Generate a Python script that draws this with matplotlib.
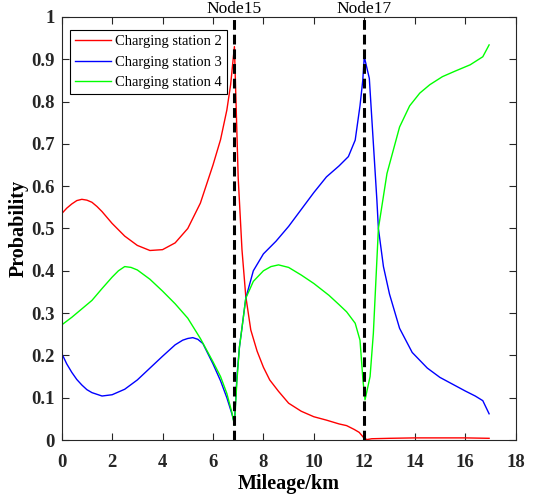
import matplotlib
matplotlib.use("Agg")
import matplotlib.pyplot as plt

plt.rcParams['font.family'] = ['Liberation Serif', 'DejaVu Serif']

# charging station 2
x2 = [0, 0.2, 0.4, 0.6, 0.8, 1.0, 1.2, 1.4, 1.6, 2.0, 2.5, 3.0, 3.5, 4.0, 4.5,
      5.0, 5.5, 6.0, 6.3, 6.55, 6.7, 6.85, 7.0, 7.15, 7.3, 7.5, 7.75, 8.0,
      8.25, 8.6, 9.0, 9.5, 10.0, 10.5, 11.0, 11.3, 11.6, 11.8, 11.97, 12.1,
      12.3, 13.0, 14.0, 15.0, 16.0, 16.95]
p2 = [0.535, 0.548, 0.558, 0.566, 0.569, 0.567, 0.562, 0.552, 0.54, 0.512,
      0.482, 0.46, 0.448, 0.45, 0.466, 0.5, 0.56, 0.65, 0.71, 0.78, 0.84,
      0.93, 0.62, 0.45, 0.34, 0.26, 0.21, 0.172, 0.142, 0.115, 0.087, 0.068,
      0.055, 0.047, 0.038, 0.034, 0.025, 0.018, 0.006, 0.001, 0.003, 0.004,
      0.005, 0.005, 0.005, 0.004]

# charging station 3
x3 = [0, 0.2, 0.4, 0.6, 0.8, 1.0, 1.2, 1.6, 2.0, 2.5, 3.0, 3.5, 4.0, 4.5, 4.8,
      5.0, 5.2, 5.4, 5.6, 6.0, 6.3, 6.55, 6.75, 6.85, 6.95, 7.05, 7.15, 7.3,
      7.6, 8.0, 8.5, 9.0, 9.5, 10.0, 10.5, 11.0, 11.37, 11.64, 11.83, 11.94,
      12.0, 12.2, 12.5, 12.56, 12.76, 13.0, 13.4, 13.9, 14.5, 15.0, 15.5,
      16.0, 16.4, 16.7, 16.95]
p3 = [0.205, 0.18, 0.16, 0.143, 0.13, 0.119, 0.112, 0.104, 0.107, 0.12,
      0.142, 0.17, 0.198, 0.225, 0.236, 0.24, 0.242, 0.238, 0.228, 0.18, 0.14,
      0.1, 0.062, 0.04, 0.15, 0.22, 0.265, 0.335, 0.40, 0.44, 0.47, 0.505,
      0.545, 0.585, 0.622, 0.648, 0.67, 0.709, 0.79, 0.85, 0.906, 0.855,
      0.567, 0.50, 0.41, 0.345, 0.264, 0.207, 0.17, 0.148, 0.132, 0.116,
      0.104, 0.093, 0.062]

# charging station 4
x4 = [0, 0.4, 0.8, 1.2, 1.6, 2.0, 2.25, 2.5, 2.75, 3.0, 3.5, 4.0, 4.5, 5.0,
      5.5, 6.0, 6.3, 6.55, 6.75, 6.85, 6.95, 7.05, 7.15, 7.3, 7.6, 8.0, 8.3,
      8.6, 9.0, 9.5, 10.0, 10.6, 11.0, 11.3, 11.64, 11.83, 11.95, 12.03,
      12.23, 12.36, 12.56, 12.9, 13.4, 13.8, 14.2, 14.6, 15.1, 15.6, 16.2,
      16.7, 16.95]
p4 = [0.272, 0.29, 0.31, 0.33, 0.358, 0.385, 0.4, 0.41, 0.408, 0.402, 0.38,
      0.352, 0.322, 0.288, 0.24, 0.185, 0.15, 0.11, 0.065, 0.035, 0.14, 0.22,
      0.265, 0.335, 0.375, 0.40, 0.41, 0.414, 0.408, 0.39, 0.37, 0.342, 0.32,
      0.303, 0.276, 0.236, 0.14, 0.095, 0.15, 0.252, 0.50, 0.63, 0.74, 0.79,
      0.82, 0.84, 0.859, 0.872, 0.887, 0.906, 0.934]

nodes = [6.85, 12.0]
node_names = ["Node15", "Node17"]

fig = plt.figure(figsize=(5.34, 4.94), dpi=100)
ax = fig.add_axes([0.1155, 0.1093, 0.85, 0.8563])

ax.plot(x2, p2, color='red', lw=1.0, label='Charging station 2')
ax.plot(x3, p3, color='blue', lw=1.0, label='Charging station 3')
ax.plot(x4, p4, color='#00ff00', lw=1.0, label='Charging station 4')

for xn, name in zip(nodes, node_names):
    ax.axvline(xn, color='black', lw=2.2, ls=(0, (3.2, 1.6)))
    ax.text(xn, 1.0, name, ha='center', va='bottom', fontsize=12.5,
            transform=ax.get_xaxis_transform(), clip_on=False)

ax.set_xlim(0, 18)
ax.set_ylim(0, 1)
ax.set_xticks(range(0, 19, 2))
ax.set_yticks([0, 0.1, 0.2, 0.3, 0.4, 0.5, 0.6, 0.7, 0.8, 0.9, 1])
ax.set_yticklabels(['0', '0.1', '0.2', '0.3', '0.4', '0.5', '0.6', '0.7',
                    '0.8', '0.9', '1'])
ax.tick_params(direction='in', top=True, right=True, length=5, width=0.8,
               labelsize=13.5, colors='#262626', pad=5)
ax.tick_params(axis='x', pad=10)
for lab in ax.get_xticklabels() + ax.get_yticklabels():
    lab.set_fontweight('bold')
for sp in ax.spines.values():
    sp.set_color('#262626')
    sp.set_linewidth(0.8)

ax.set_xlabel('Mileage/km', fontsize=14.5, fontweight='bold', labelpad=2)
ax.set_ylabel('Probability', fontsize=14.5, fontweight='bold', labelpad=2)

leg = ax.legend(loc='upper left', bbox_to_anchor=(8 / 454, 1 - 13 / 423),
                fontsize=10.5, frameon=True, fancybox=False,
                edgecolor='black', framealpha=1, handlelength=2.5,
                borderaxespad=0, borderpad=0.35, labelspacing=0.5,
                handletextpad=0.25)
leg.get_frame().set_linewidth(0.8)

fig.savefig('out.png', dpi=100)
